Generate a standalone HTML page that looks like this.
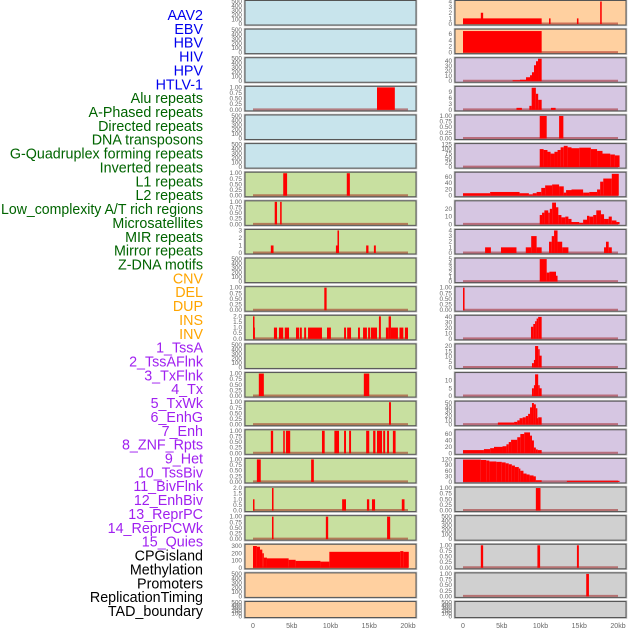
<!DOCTYPE html>
<html><head><meta charset="utf-8"><style>
body{margin:0;background:#fff;}
svg{display:block;font-family:"Liberation Sans",sans-serif;}
</style></head><body>
<svg id="chart" width="630" height="630" viewBox="0 0 630 630" xmlns="http://www.w3.org/2000/svg">
<g id="labels"></g>
<g id="panels"></g>
<g id="xaxis"></g>
</svg>
<script>
const trackNames = ["AAV2","EBV","HBV","HIV","HPV","HTLV-1","Alu repeats","A-Phased repeats","Directed repeats","DNA transposons","G-Quadruplex forming repeats","Inverted repeats","L1 repeats","L2 repeats","Low_complexity A/T rich regions","Microsatellites","MIR repeats","Mirror repeats","Z-DNA motifs","CNV","DEL","DUP","INS","INV","1_TssA","2_TssAFlnk","3_TxFlnk","4_Tx","5_TxWk","6_EnhG","7_Enh","8_ZNF_Rpts","9_Het","10_TssBiv","11_BivFlnk","12_EnhBiv","13_ReprPC","14_ReprPCWk","15_Quies","CPGisland","Methylation","Promoters","ReplicationTiming","TAD_boundary"];
const trackColors = ["#0000ee","#0000ee","#0000ee","#0000ee","#0000ee","#0000ee","#006400","#006400","#006400","#006400","#006400","#006400","#006400","#006400","#006400","#006400","#006400","#006400","#006400","#ffa500","#ffa500","#ffa500","#ffa500","#ffa500","#a020f0","#a020f0","#a020f0","#a020f0","#a020f0","#a020f0","#a020f0","#a020f0","#a020f0","#a020f0","#a020f0","#a020f0","#a020f0","#a020f0","#a020f0","#000","#000","#000","#000","#000"];
const xTicks = [0,5,10,15,20];
const xTickLabels = ["0","5kb","10kb","15kb","20kb"];
const tEmpty = ["0","100","200","300","400","500"];
const t01 = ["0.00","0.25","0.50","0.75","1.00"];
const t02 = ["0.0","0.5","1.0","1.5","2.0"];
// segments: [startKb, endKb, value]
const sL3 = [[16.0,18.3,1]];
const sL6 = [[3.9,4.4,1],[12.1,12.5,1]];
const sL7 = [[2.8,3.1,1],[3.5,3.7,1]];
const sL8 = [[2.3,2.65,1],[10.7,11.0,1],[10.9,11.1,3],[14.6,14.9,1],[15.6,15.85,1]];
const sL10 = [[9.2,9.5,1]];
const sL11 = [[0,0.25,1],[0,0.12,2],[2.7,3.1,1],[3.35,3.9,1],[4.1,4.65,1],[5.55,5.95,1],[6.05,6.3,1],[6.6,6.85,1],[7.1,8.9,1],[9.55,10.05,1],[11.75,12.0,1],[12.15,12.65,1],[13.55,13.8,1],[14.2,14.7,1],[14.85,15.1,1],[15.2,16.0,1],[16.25,16.5,2],[17.15,17.5,1],[17.5,17.8,2],[17.8,18.7,1],[18.9,19.4,1],[19.6,20.0,1]];
const sL13 = [[0.75,1.4,1],[14.3,15.0,1]];
const sL14 = [[17.55,17.8,1]];
const sL15 = [[2.3,2.6,1],[3.9,4.1,1],[4.25,4.8,1],[8.9,9.25,1],[10.5,11.1,1],[11.75,12.0,1],[12.4,12.65,1],[14.6,15.0,1],[15.5,15.8,1],[16.0,16.65,1],[16.8,17.05,1],[17.3,17.55,1],[18.05,18.4,1]];
const sL16 = [[0.5,1.0,1],[7.5,7.85,1]];
const sL17 = [[0,0.15,1],[2.45,2.65,2],[11.5,12.0,1],[14.7,15.0,1],[15.35,15.75,1],[19.2,19.55,1]];
const sL18 = [[2.45,2.65,1],[9.4,9.7,1],[17.3,17.7,1]];
const sL19 = [[0,0.5,300],[0.5,0.9,290],[0.9,1.2,250],[1.2,1.4,200],[1.4,1.8,140],[1.8,4.6,130],[4.6,5.5,110],[5.5,8.7,95],[8.7,9.85,85],[9.85,19.0,220],[19.0,19.4,230],[19.4,20.1,220]];
const sR0 = [[0,10.15,1],[2.3,2.6,2],[11.1,11.3,1],[14.7,14.9,1],[17.7,17.9,4]];
const sR1 = [[0,10.15,7]];
const sR2 = [[6.4,7.35,2],[7.35,8.13,3],[8.13,8.65,8],[8.65,8.9,12],[8.9,9.16,18],[9.16,9.42,32],[9.42,9.68,40],[9.68,10.15,45]];
const sR3 = [[6.9,7.6,1],[8.56,8.86,2],[8.86,9.4,11],[9.4,9.7,8],[9.7,10.15,5],[11.35,11.95,1]];
const sR4 = [[9.9,10.8,1],[12.4,12.95,1]];
const sR5 = [[9.9,10.4,100],[10.4,10.9,95],[10.9,11.3,85],[11.3,11.8,75],[11.8,12.2,85],[12.2,12.6,95],[12.6,13.0,110],[13.0,13.5,118],[13.5,14.0,110],[14.0,15.0,105],[15.0,16.5,108],[16.5,17.3,100],[17.3,18.0,90],[18.0,19.0,75],[19.0,19.6,70],[19.6,20.2,65]];
const sR6 = [[0,3.5,8],[3.5,7.3,12],[7.3,8.5,8],[8.5,9.0,4],[9.0,9.5,8],[9.5,10.1,12],[10.1,10.6,25],[10.6,11.5,33],[11.5,12.4,36],[12.4,13.0,30],[13.0,13.3,10],[13.3,14.0,18],[14.0,15.5,20],[15.5,16.3,10],[16.3,17.3,12],[17.3,17.7,20],[17.7,18.1,45],[18.1,19.2,55],[19.2,20.1,70]];
const sR7 = [[9.9,10.2,12],[10.2,10.5,15],[10.5,11.0,18],[11.0,11.2,15],[11.2,11.5,20],[11.5,12.0,28],[12.0,12.3,22],[12.3,12.7,12],[12.7,13.2,9],[13.2,13.6,10],[13.6,14.0,7],[14.0,15.0,3],[15.0,15.5,2],[15.5,16.0,6],[16.0,16.3,11],[16.3,16.8,10],[16.8,17.2,12],[17.2,17.8,18],[17.8,18.2,13],[18.2,18.8,7],[18.8,19.2,10],[19.2,19.8,5],[19.8,20.2,3]];
const sR8 = [[2.85,3.6,1],[4.9,6.9,1],[8.1,8.8,1],[8.8,9.5,3],[9.5,10.15,1],[11.1,11.45,2],[11.45,11.75,3],[11.75,12.2,4],[12.2,12.8,2],[12.8,13.6,1],[18.2,18.45,1],[18.45,18.8,2],[18.8,19.2,1]];
const sR9 = [[9.9,10.8,5],[10.8,11.15,2],[11.15,12.0,2.2],[12.0,12.2,1.3]];
const sR10 = [[0,0.2,1]];
const sR11 = [[8.77,9.07,22],[9.07,9.3,27],[9.3,9.5,32],[9.5,9.7,37],[9.7,10.15,40]];
const sR12 = [[8.9,9.15,4],[9.15,9.3,7],[9.3,9.7,20],[9.7,9.85,17],[9.85,10.15,11]];
const sR13 = [[8.9,9.15,5],[9.15,9.3,7],[9.3,9.7,14],[9.7,9.85,7],[9.85,10.15,5]];
const sR14 = [[4.5,6.6,5],[6.6,7.0,6.5],[7.0,7.3,10],[7.3,7.7,15],[7.7,8.1,17],[8.1,8.4,20],[8.4,8.65,25],[8.65,8.9,40],[8.9,9.15,50],[9.15,9.4,47],[9.4,9.5,38],[9.5,9.7,15],[9.7,10.15,17]];
const sR15 = [[0,2.7,10],[2.7,3.5,13],[3.5,4.0,16],[4.0,5.1,20],[5.1,5.6,22],[5.6,5.9,28],[5.9,6.2,35],[6.2,7.0,42],[7.0,7.4,50],[7.4,7.9,60],[7.9,8.65,65],[8.65,8.9,55],[8.9,9.15,40],[9.15,9.4,18],[9.4,9.65,12],[9.65,10.15,10]];
const sR16 = [[0,2.3,120],[2.3,3.0,118],[3.0,3.4,115],[3.4,4.3,110],[4.3,5.0,108],[5.0,5.5,105],[5.5,5.9,100],[5.9,6.3,95],[6.3,6.7,88],[6.7,7.2,80],[7.2,7.4,72],[7.4,7.8,60],[7.8,8.2,45],[8.2,8.6,40],[8.6,9.1,35],[9.1,9.4,30],[9.4,10.15,9],[13.4,20.2,6]];
const sR17 = [[9.4,10.0,1]];
const sR19 = [[2.3,2.6,1],[9.6,9.95,1],[14.7,14.95,1]];
const sR20 = [[15.9,16.25,1]];
const BLUE="#c8e4ec",GREEN="#c8e0a0",ORANGE="#ffd0a0",PURPLE="#d6c6e2",GRAY="#d0d0d0";
// [col,row,bg,ymax,tickLabels,segments]
const panels = [
[0,0,BLUE,500,tEmpty,null],[0,1,BLUE,500,tEmpty,null],[0,2,BLUE,500,tEmpty,null],
[0,3,BLUE,1,t01,sL3],[0,4,BLUE,500,tEmpty,null],[0,5,BLUE,500,tEmpty,null],
[0,6,GREEN,1,t01,sL6],[0,7,GREEN,1,t01,sL7],[0,8,GREEN,3,["0","1","2","3"],sL8],
[0,9,GREEN,500,tEmpty,null],[0,10,GREEN,1,t01,sL10],[0,11,GREEN,2,t02,sL11],
[0,12,GREEN,500,tEmpty,null],[0,13,GREEN,1,t01,sL13],[0,14,GREEN,1,t01,sL14],
[0,15,GREEN,1,t01,sL15],[0,16,GREEN,1,t01,sL16],[0,17,GREEN,2,t02,sL17],
[0,18,GREEN,1,t01,sL18],[0,19,ORANGE,310,["0","100","200","300"],sL19],
[0,20,ORANGE,500,tEmpty,null],[0,21,ORANGE,500,tEmpty,null],
[1,0,ORANGE,4,["0","1","2","3","4"],sR0],[1,1,ORANGE,7.3,["0","2","4","6"],sR1],
[1,2,PURPLE,45,["0","10","20","30","40"],sR2],[1,3,PURPLE,11.2,["0","3","6","9"],sR3],
[1,4,PURPLE,1,t01,sR4],[1,5,PURPLE,125,["0","25","50","75","100","125"],sR5],
[1,6,PURPLE,72,["0","20","40","60"],sR6],[1,7,PURPLE,29,["0","10","20"],sR7],
[1,8,PURPLE,4,["0","1","2","3","4"],sR8],[1,9,PURPLE,5,["0","1","2","3","4","5"],sR9],
[1,10,PURPLE,1,t01,sR10],[1,11,PURPLE,41,["0","10","20","30","40"],sR11],
[1,12,PURPLE,21,["0","5","10","15","20"],sR12],[1,13,PURPLE,14.5,["0","5","10"],sR13],
[1,14,PURPLE,52,["0","10","20","30","40","50"],sR14],[1,15,PURPLE,70,["0","20","40","60"],sR15],
[1,16,PURPLE,121,["0","30","60","90","120"],sR16],[1,17,GRAY,1,t01,sR17],
[1,18,GRAY,500,tEmpty,null],[1,19,GRAY,1,t01,sR19],[1,20,GRAY,1,t01,sR20],[1,21,GRAY,500,tEmpty,null]
];
const NS="http://www.w3.org/2000/svg";
function mk(tag,attrs,parent){const e=document.createElementNS(NS,tag);for(const k in attrs)e.setAttribute(k,attrs[k]);parent.appendChild(e);return e;}
const colX=[245,455], PW=171, ROWH=28.62;
function xScale(col,kb){return colX[col]+8+kb*7.75;}
const gl=document.getElementById('labels');
trackNames.forEach((n,i)=>{
  const t=mk('text',{x:203,y:15+i*13.86+5,'text-anchor':'end','font-size':'14.3',fill:trackColors[i]},gl);
  if(n.length>28){t.setAttribute('textLength','202');t.setAttribute('lengthAdjust','spacingAndGlyphs');}
  
  
  t.textContent=n;
});
const gp=document.getElementById('panels');
panels.forEach(p=>{
  const [col,row,bg,ymax,tl,segs]=p;
  const top=row*ROWH+0.5, h=row===21?16:24.5, x0=colX[col];
  const g=mk('g',{},gp);
  
  
  const r0=mk('rect',{x:x0-0.5,y:top-0.5,width:PW+1,height:h+1,fill:'none',stroke:'#bbb','stroke-width':1.5},g);
  
  
  const r=mk('rect',{x:x0,y:top,width:PW,height:h,fill:bg,stroke:'#555','stroke-width':1},g);
  
  
  const yS=v=>top+h-1-v/ymax*(h-2);
  tl.forEach(lbl=>{
    const v=parseFloat(lbl);
    const t=mk('text',{x:x0-3,y:yS(v)+2,'text-anchor':'end','font-size':'6.4',fill:'#666'},g);
    
    
    t.textContent=lbl;
  });
  if(segs){
    const bl=mk('line',{x1:xScale(col,0),x2:xScale(col,20),y1:top+h-1.5,y2:top+h-1.5,stroke:'rgba(150,0,0,0.45)','stroke-width':2},g);
    
    
    segs.forEach(s=>{
      const xa=xScale(col,s[0]), xb=xScale(col,s[1]);
      const y=yS(Math.min(s[2],ymax));
      const b=mk('rect',{x:xa,y:y,width:Math.max(xb-xa,1.5),height:top+h-1-y,fill:'#ff0000'},g);
      
      
    });
  }
});
const gx=document.getElementById('xaxis');
[0,1].forEach(col=>{
  xTicks.forEach((k,i)=>{
    const t=mk('text',{x:xScale(col,k),y:628,'text-anchor':'middle','font-size':'7',fill:'#666'},gx);
    
    
    t.textContent=xTickLabels[i];
  });
});
</script>
</body></html>
